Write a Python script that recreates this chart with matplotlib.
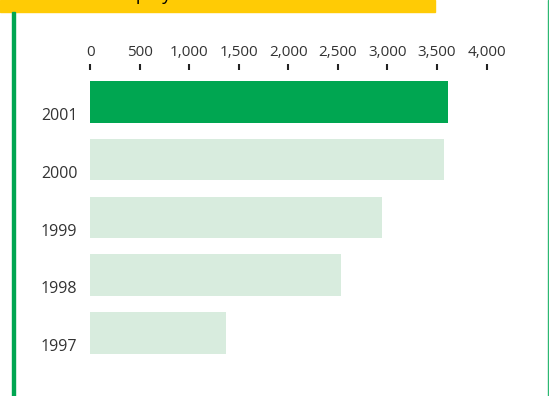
import matplotlib.pyplot as plt
from matplotlib.patches import Rectangle
import matplotlib.transforms as mtransforms

plt.rcParams['font.family'] = ['Open Sans', 'DejaVu Sans']

# Values
years = ["1997", "1998", "1999", "2000", "2001"]
values = [1370, 2530, 2945, 3575, 3610]
highlight = "2001"
x_ticks = [0, 500, 1000, 1500, 2000, 2500, 3000, 3500, 4000]
title = "Number of employees"

W, H = 549, 396
fig = plt.figure(figsize=(W / 100, H / 100), dpi=100)

# axes placed in pixel terms
left, right, top = 90.3, 486.5, 70
ax = fig.add_axes([left / W, 0, (right - left) / W, (H - top) / H])

colors = ["#00A651" if y == highlight else "#D8ECDE" for y in years]
pos = list(range(len(years)))
ax.barh(pos, values, height=0.72, color=colors)

ax.set_xlim(0, 4000)
ax.set_ylim(-1.09, 4.55)
ax.xaxis.tick_top()
ax.set_xticks(x_ticks)
ax.set_xticklabels([f"{t:,}" for t in x_ticks])
ax.tick_params(axis="x", length=4.5, width=1.5, pad=3, labelsize=11,
               colors="#222222", labelcolor="#333333")
ax.set_yticks([])
for s in ax.spines.values():
    s.set_visible(False)

# year labels sit a bit lower than the bar centre
offset = mtransforms.ScaledTranslation(-13 / 100, 0, fig.dpi_scale_trans)
trans = mtransforms.blended_transform_factory(ax.transAxes, ax.transData) + offset
for p, y in zip(pos, years):
    ax.text(0, p - 0.245, y, transform=trans, ha="right", va="center",
            fontsize=11.5, color="#333333")

# decorations: yellow banner and green rules
fig.patches.append(Rectangle((0, 1 - 11.5 / H), 435 / W, 11.5 / H,
                             transform=fig.transFigure, color="#FFCB05", zorder=0))
fig.patches.append(Rectangle((12 / W, 0), 3 / W, (H - 12) / H,
                             transform=fig.transFigure, color="#00A651", zorder=0))
fig.patches.append(Rectangle((547.5 / W, 0), 1.5 / W, 1,
                             transform=fig.transFigure, color="#2DB872", zorder=0))
fig.text(13 / W, 1 + 0.5 / H, title, fontsize=13, color="black", va="baseline")

fig.savefig("out.png", dpi=100)
